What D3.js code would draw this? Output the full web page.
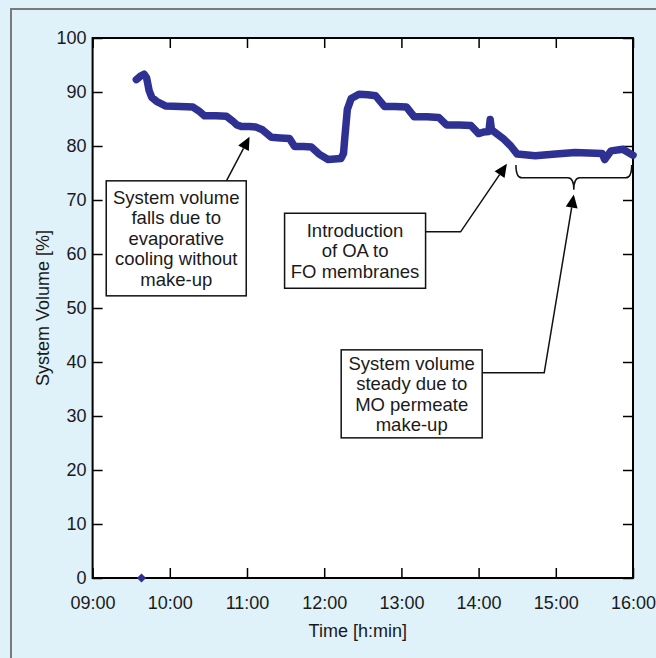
<!DOCTYPE html>
<html>
<head>
<meta charset="utf-8">
<script src="https://cdn.jsdelivr.net/npm/d3@7"></script>
<style>
  body { margin: 0; background: #fff; }
  svg text { font-family: "Liberation Sans", Arial, sans-serif; fill: #1a1a1a; }
</style>
</head>
<body>
<div id="chart"></div>
<script>
// --- data ---
const times = ["09:34","09:37","09:40","09:42","09:43","09:44","09:46","09:50","09:57","10:08","10:18",
  "10:23","10:27","10:36","10:44","10:49","10:52","10:56","11:02","11:07","11:12","11:19","11:26","11:33",
  "11:37","11:44","11:50","11:56","12:03","12:08","12:13","12:15","12:16","12:18","12:21","12:27","12:34",
  "12:40","12:47","12:55","13:04","13:10","13:20","13:29","13:35","13:45","13:54","14:00","14:04","14:08",
  "14:09","14:10","14:19","14:25","14:30","14:44","15:00","15:15","15:36","15:38","15:43","15:52","16:00"];
const volume = [92.3,92.9,93.3,92.6,91.4,90.2,89.0,88.2,87.4,87.3,87.2,
  86.4,85.6,85.6,85.5,84.6,83.9,83.6,83.6,83.5,83.0,81.6,81.5,81.4,
  79.9,79.9,79.8,78.5,77.5,77.6,77.7,78.6,81.5,86.8,88.8,89.6,89.5,
  89.3,87.3,87.3,87.2,85.4,85.4,85.3,83.9,83.9,83.8,82.3,82.6,82.7,
  84.9,83.0,81.4,80.0,78.5,78.2,78.5,78.8,78.6,77.5,79.1,79.4,78.3];
// lone start-up reading
const outlierTime = "09:38";
const outlierValue = 0;

const xTicks = ["09:00","10:00","11:00","12:00","13:00","14:00","15:00","16:00"];
const yTicks = [0,10,20,30,40,50,60,70,80,90,100];

const notes = [
  { lines: ["System volume","falls due to","evaporative","cooling without","make-up"],
    at: ["10:05", 62.9], w: 140, h: 115,
    path: [["10:44", 73.4]], tip: ["11:02", 81.7], from: "top" },
  { lines: ["Introduction","of OA to","FO membranes"],
    at: ["12:24", 60.6], w: 141, h: 75,
    path: [["13:46", 64.1]], tip: ["14:22", 76.7], from: "right" },
  { lines: ["System volume","steady due to","MO permeate","make-up"],
    at: ["13:08", 34.1], w: 141, h: 88,
    path: [["14:51", 38.0]], tip: ["15:14", 71.0], from: "right" }
];
const brace = { start: "14:29", end: "15:59", top: 76.5, mid: 74.1, point: 71.9 };

const W = 656, H = 658;
const margin = { top: 38, right: 23, bottom: 80, left: 92.6 };
const lineColor = "#2e3192";
const fontSize = "18px";

const parse = d3.timeParse("%H:%M");
const fmt = d3.timeFormat("%H:%M");

const svg = d3.select("#chart").append("svg")
  .attr("width", W).attr("height", H);

// panel
svg.append("rect").attr("width", W).attr("height", H).attr("fill", "#dff1f9");
svg.append("path")
  .attr("d", `M11,${H} L11,9 L${W},9`)
  .attr("fill", "none").attr("stroke", "#7a7a7a").attr("stroke-width", 2);

const x = d3.scaleTime()
  .domain([parse("09:00"), parse("16:00")])
  .range([margin.left, W - margin.right]);
const y = d3.scaleLinear()
  .domain([0, 100])
  .range([H - margin.bottom, margin.top]);

svg.append("rect")
  .attr("x", x.range()[0]).attr("y", y.range()[1])
  .attr("width", x.range()[1] - x.range()[0])
  .attr("height", y.range()[0] - y.range()[1])
  .attr("fill", "#fff");

// axes with inward ticks
const tickVals = xTicks.map(parse);
const gx = svg.append("g").attr("transform", `translate(0,${y(0)})`)
  .call(d3.axisBottom(x).tickValues(tickVals).tickFormat(fmt).tickSize(-10).tickSizeOuter(0).tickPadding(18));
const gxTop = svg.append("g").attr("transform", `translate(0,${y(100)})`)
  .call(d3.axisTop(x).tickValues(tickVals).tickFormat("").tickSize(-10).tickSizeOuter(0));
const gy = svg.append("g").attr("transform", `translate(${x.range()[0]},0)`)
  .call(d3.axisLeft(y).tickValues(yTicks).tickSize(-10).tickSizeOuter(0).tickPadding(6));
const gyRight = svg.append("g").attr("transform", `translate(${x.range()[1]},0)`)
  .call(d3.axisRight(y).tickValues(yTicks).tickFormat("").tickSize(-10).tickSizeOuter(0));

[gx, gxTop, gy, gyRight].forEach(g => {
  g.select(".domain").remove();
  g.selectAll(".tick line").attr("stroke", "#000").attr("stroke-width", 1.5);
  g.selectAll("text").style("font-size", fontSize).attr("fill", "#1a1a1a");
});

// frame
svg.append("rect")
  .attr("x", x.range()[0]).attr("y", y.range()[1])
  .attr("width", x.range()[1] - x.range()[0])
  .attr("height", y.range()[0] - y.range()[1])
  .attr("fill", "none").attr("stroke", "#000").attr("stroke-width", 2);

// axis titles
svg.append("text")
  .attr("x", (x.range()[0] + x.range()[1]) / 2 - 5)
  .attr("y", 637)
  .attr("text-anchor", "middle")
  .style("font-size", fontSize)
  .text("Time [h:min]");
svg.append("text")
  .attr("transform", `translate(49,${(y(0) + y(100)) / 2}) rotate(-90)`)
  .attr("text-anchor", "middle")
  .style("font-size", fontSize)
  .text("System Volume [%]");

// data line
const series = times.map((t, i) => ({ t: parse(t), v: volume[i] }));
const line = d3.line().x(d => x(d.t)).y(d => y(d.v)).curve(d3.curveLinear);
svg.append("path")
  .datum(series)
  .attr("d", line)
  .attr("fill", "none")
  .attr("stroke", lineColor)
  .attr("stroke-width", 7.5)
  .attr("stroke-linejoin", "round")
  .attr("stroke-linecap", "round");

// square diamond marker
svg.append("path")
  .attr("d", d3.symbol(d3.symbolSquare, 42)())
  .attr("transform", `translate(${x(parse(outlierTime))},${y(outlierValue)}) rotate(45)`)
  .attr("fill", lineColor);

// brace
{
  const x0 = x(parse(brace.start)), x1 = x(parse(brace.end));
  const yt = y(brace.top), ym = y(brace.mid), yp = y(brace.point);
  const xc = (x0 + x1) / 2, r = 6;
  const p = d3.path();
  p.moveTo(x0, yt);
  p.quadraticCurveTo(x0, ym, x0 + r, ym);
  p.lineTo(xc - r, ym);
  p.quadraticCurveTo(xc, ym, xc, yp);
  p.quadraticCurveTo(xc, ym, xc + r, ym);
  p.lineTo(x1 - r, ym);
  p.quadraticCurveTo(x1, ym, x1, yt);
  svg.append("path").attr("d", p.toString())
    .attr("fill", "none").attr("stroke", "#111").attr("stroke-width", 1.5);
}

// annotation boxes and arrows
const pt = a => [x(parse(a[0])), y(a[1])];
notes.forEach(n => {
  const [cx, cy] = pt(n.at);
  const bx = cx - n.w / 2, by = cy - n.h / 2;
  const g = svg.append("g");

  const start = n.from === "top" ? [pt(n.path[0])[0], by] : [bx + n.w, pt(n.path[0])[1]];
  const pts = n.from === "top" ? [start, pt(n.tip)] : [start, pt(n.path[0]), pt(n.tip)];
  const tip = pts[pts.length - 1], prev = pts[pts.length - 2];
  const ang = Math.atan2(tip[1] - prev[1], tip[0] - prev[0]);
  const len = 13, half = 6;
  const base = [tip[0] - len * Math.cos(ang), tip[1] - len * Math.sin(ang)];
  const shaft = pts.slice(0, -1).concat([base]);

  g.append("path").attr("d", d3.line()(shaft))
    .attr("fill", "none").attr("stroke", "#111").attr("stroke-width", 1.5);
  g.append("path")
    .attr("d", d3.line()([
      tip,
      [base[0] + half * Math.sin(ang), base[1] - half * Math.cos(ang)],
      [base[0] - half * Math.sin(ang), base[1] + half * Math.cos(ang)]
    ]) + "Z")
    .attr("fill", "#000");

  g.append("rect")
    .attr("x", bx).attr("y", by).attr("width", n.w).attr("height", n.h)
    .attr("fill", "#fff").attr("stroke", "#111").attr("stroke-width", 1.5);

  const lh = 20.5;
  const t = g.append("text").attr("text-anchor", "middle").style("font-size", "18.5px");
  n.lines.forEach((s, i) => {
    t.append("tspan")
      .attr("x", cx)
      .attr("y", cy + (i - (n.lines.length - 1) / 2) * lh + 6.5)
      .text(s);
  });
});
</script>
</body>
</html>
